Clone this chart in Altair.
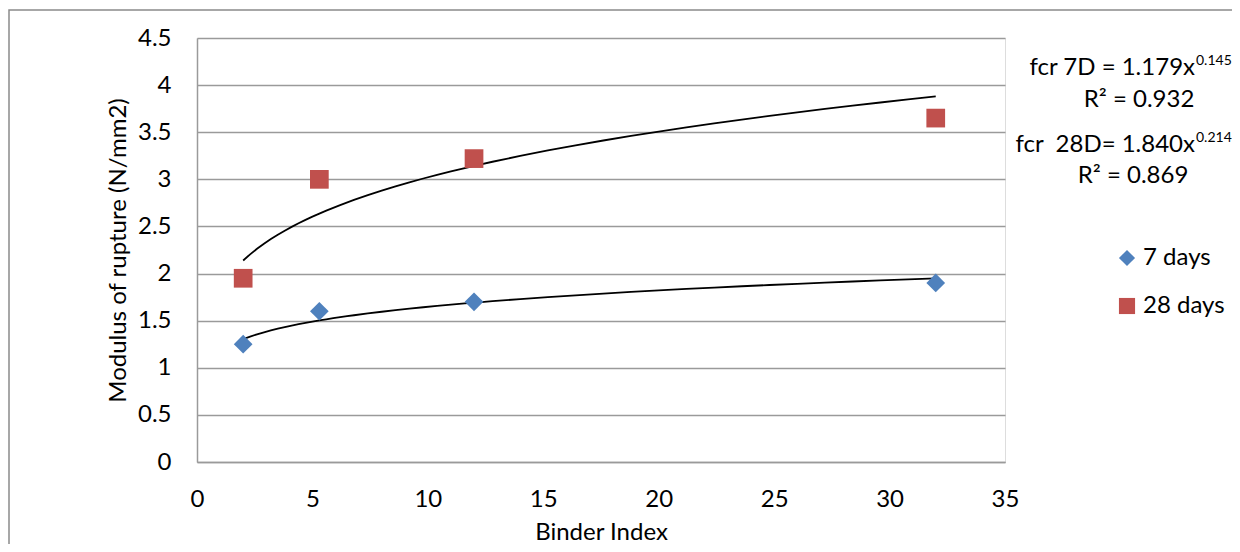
import altair as alt
import pandas as pd

# ---- data ----
binder_index = [2, 5.3, 12, 32]
mor_7_days = [1.25, 1.6, 1.7, 1.9]
mor_28_days = [1.95, 3.0, 3.22, 3.65]
series_names = ["7 days", "28 days"]
x_ticks = [0, 5, 10, 15, 20, 25, 30, 35]
y_ticks = [0, 0.5, 1, 1.5, 2, 2.5, 3, 3.5, 4, 4.5]

df = pd.DataFrame({
    "x": binder_index + binder_index,
    "y": mor_7_days + mor_28_days,
    "series": [series_names[0]] * 4 + [series_names[1]] * 4,
})

FONT = "Lato"
FS = 24
GRID = "#9a9a9a"
xs = alt.Scale(domain=[0, 35], nice=False, zero=False)
ys = alt.Scale(domain=[0, 4.5], nice=False)

leg = alt.Legend(
    title=None, orient="none", legendX=918, legendY=208,
    labelFont=FONT, labelFontSize=FS, labelColor="black",
    symbolSize=260, symbolStrokeWidth=0, labelOffset=4,
    rowPadding=24, padding=0, symbolOpacity=1,
)

x_enc = alt.X("x:Q", scale=xs, axis=alt.Axis(
    title="Binder Index", values=x_ticks, grid=False, ticks=False, tickSize=0,
    domainColor=GRID, domainWidth=1.5, labelFont=FONT, labelFontSize=FS,
    labelColor="black", labelPadding=25, titleFont=FONT, titleFontSize=FS,
    titleFontWeight="normal", titleColor="black", titlePadding=9,
    labelFlush=False))
y_enc = alt.Y("y:Q", scale=ys, axis=alt.Axis(
    title="Modulus of rupture (N/mm2)", values=y_ticks, format="~g",
    grid=True, gridColor=GRID, gridWidth=1.5, ticks=False, tickSize=0,
    domainColor=GRID, domainWidth=1.5, labelFont=FONT, labelFontSize=FS,
    labelColor="black", labelPadding=26, titleFont=FONT, titleFontSize=FS,
    titleFontWeight="normal", titleColor="black", titlePadding=7,
    labelFlush=False))

one = pd.DataFrame({"k": [0]})

border = alt.Chart(one).mark_rect(
    fill=None, stroke="#8a8a8a", strokeWidth=1.5
).encode(x=alt.value(-188), x2=alt.value(1200), y=alt.value(-28), y2=alt.value(800))

points = alt.Chart(df).mark_point(filled=True, opacity=1, size=350, strokeWidth=0).encode(
    x=x_enc,
    y=y_enc,
    color=alt.Color("series:N", scale=alt.Scale(domain=series_names,
                                                range=["#4F81BD", "#C0504D"]), legend=leg),
    shape=alt.Shape("series:N", scale=alt.Scale(domain=series_names,
                                                range=["diamond", "square"]), legend=leg),
)

trend = alt.Chart(df).transform_regression(
    "x", "y", groupby=["series"], method="pow"
).mark_line(color="black", strokeWidth=1.8).encode(
    x=alt.X("x:Q", scale=xs), y=alt.Y("y:Q", scale=ys), detail="series:N")


def txt(s, x, y, size=FS, align="left"):
    return alt.Chart(one).mark_text(
        text=s, font=FONT, fontSize=size, color="black", align=align,
        baseline="alphabetic"
    ).encode(x=alt.value(x), y=alt.value(y))


annots = [
    txt("fcr 7D = 1.179x", 998, 37, align="right"),
    txt("0.145", 999, 27, size=14),
    txt("R\u00b2 = 0.932", 942, 69, align="center"),
    txt("fcr\u00a0 28D= 1.840x", 998, 114, align="right"),
    txt("0.214", 999, 104, size=14),
    txt("R\u00b2 = 0.869", 936, 145, align="center"),
]

chart = alt.layer(border, trend, points, *annots).properties(
    width=808, height=424,
    autosize=alt.AutoSizeParams(type="none"),
    padding={"left": 189, "top": 30, "right": 227, "bottom": 82},
).configure_view(stroke=None).configure(background="white")

chart.save("out.html", embed_options={"renderer": "svg", "actions": False})
